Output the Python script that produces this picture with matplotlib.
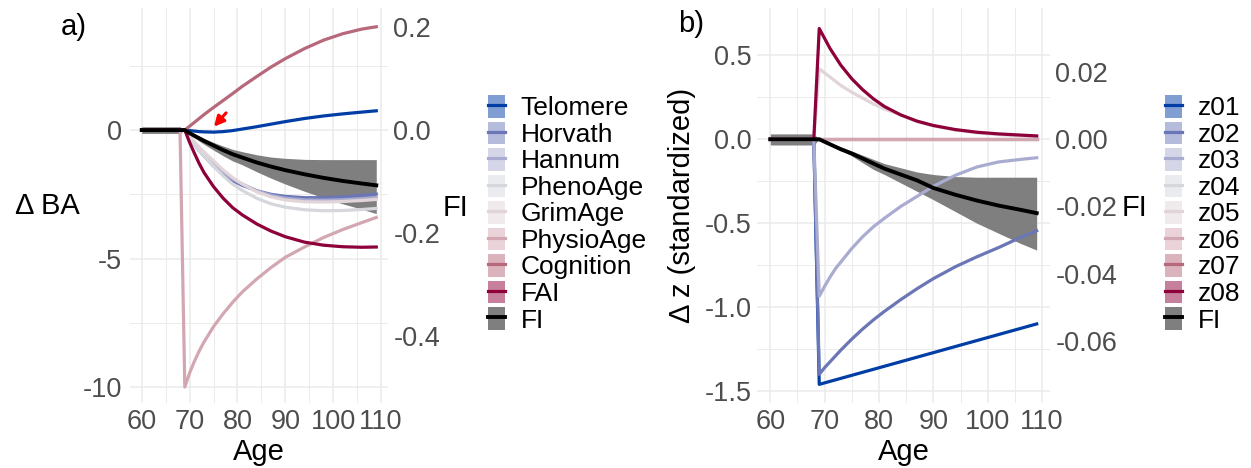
# Simulated intervention effects on biological age / frailty

import numpy as np
import matplotlib
matplotlib.use('Agg')
import matplotlib.pyplot as plt
import matplotlib.ticker as tck
from matplotlib.patches import Rectangle
from matplotlib.lines import Line2D

plt.rcParams['font.family'] = ['Liberation Sans', 'DejaVu Sans']
plt.rcParams['axes.unicode_minus'] = False

ages = [60, 68, 69, 70, 71, 72, 73, 75, 77, 79, 81, 84, 87, 90, 94, 98, 102, 106, 109]

# panel a: change in biological age
ba_labels = ['Telomere', 'Horvath', 'Hannum', 'PhenoAge', 'GrimAge',
             'PhysioAge', 'Cognition', 'FAI']
telomere = [0, 0, 0, -0.02, -0.04, -0.06, -0.07, -0.08, -0.06, -0.02, 0.04, 0.13, 0.23, 0.33, 0.45, 0.55, 0.63, 0.70, 0.75]
horvath = [0, 0, 0, -0.28, -0.55, -0.8, -1.0, -1.4, -1.72, -1.97, -2.15, -2.36, -2.5, -2.58, -2.63, -2.63, -2.6, -2.54, -2.49]
hannum = [0, 0, 0, -0.25, -0.5, -0.73, -0.95, -1.3, -1.62, -1.9, -2.1, -2.36, -2.54, -2.65, -2.72, -2.73, -2.71, -2.67, -2.62]
phenoage = [0, 0, 0, -0.28, -0.55, -0.8, -1.0, -1.4, -1.78, -2.1, -2.35, -2.65, -2.87, -3.0, -3.1, -3.14, -3.13, -3.09, -3.05]
grimage = [0, 0, 0, -0.22, -0.45, -0.66, -0.85, -1.2, -1.55, -1.85, -2.1, -2.4, -2.6, -2.72, -2.79, -2.8, -2.78, -2.74, -2.7]
physioage = [0, 0, -10, -9.45, -9.0, -8.6, -8.25, -7.65, -7.15, -6.7, -6.3, -5.8, -5.35, -4.95, -4.55, -4.18, -3.87, -3.6, -3.4]
cognition = [0, 0, 0, 0.15, 0.3, 0.45, 0.6, 0.88, 1.15, 1.42, 1.7, 2.08, 2.45, 2.78, 3.17, 3.5, 3.75, 3.93, 4.02]
fai = [0, 0, 0, -0.48, -0.9, -1.3, -1.65, -2.2, -2.65, -3.02, -3.3, -3.65, -3.93, -4.15, -4.36, -4.48, -4.54, -4.56, -4.55]
ba_series = [telomere, horvath, hannum, phenoage, grimage, physioage, cognition, fai]

fi_a = [0, 0, 0, -0.006, -0.011, -0.016, -0.021, -0.03, -0.039, -0.047, -0.0535, -0.063, -0.071, -0.078, -0.086, -0.093, -0.099, -0.104, -0.1075]
fi_a_hi = [0.0065, 0.0065, 0, -0.004, -0.0075, -0.0115, -0.016, -0.024, -0.031, -0.0375, -0.042, -0.048, -0.0525, -0.055, -0.057, -0.0575, -0.0575, -0.0575, -0.0575]
fi_a_lo = [-0.0065, -0.0065, 0, -0.008, -0.015, -0.0215, -0.0275, -0.039, -0.05, -0.06, -0.0675, -0.081, -0.0935, -0.105, -0.119, -0.132, -0.1435, -0.154, -0.1625]

# panel b: change in standardized z
z_labels = ['z01', 'z02', 'z03', 'z04', 'z05', 'z06', 'z07', 'z08']
z01 = [0, 0, -1.46, -1.451, -1.442, -1.433, -1.424, -1.406, -1.388, -1.37, -1.352, -1.325, -1.298, -1.271, -1.235, -1.199, -1.163, -1.127, -1.10]
z02 = [0, 0, -1.40, -1.36, -1.325, -1.29, -1.255, -1.19, -1.13, -1.075, -1.025, -0.955, -0.89, -0.83, -0.76, -0.70, -0.645, -0.585, -0.545]
z03 = [0, 0, -0.935, -0.875, -0.82, -0.77, -0.73, -0.65, -0.58, -0.52, -0.47, -0.4, -0.34, -0.28, -0.215, -0.165, -0.135, -0.12, -0.11]
z04 = [0] * 19
z05 = [0, 0, 0.42, 0.395, 0.37, 0.345, 0.32, 0.28, 0.245, 0.21, 0.18, 0.145, 0.105, 0.08, 0.055, 0.038, 0.028, 0.02, 0.015]
z06 = [0] * 19
z07 = [0] * 19
z08 = [0, 0, 0.66, 0.6, 0.54, 0.49, 0.44, 0.36, 0.295, 0.24, 0.195, 0.145, 0.108, 0.082, 0.058, 0.042, 0.032, 0.025, 0.02]
z_series = [z01, z02, z03, z04, z05, z06, z07, z08]

fi_b = [0, 0, 0, -0.00075, -0.0015, -0.00225, -0.003, -0.00425, -0.00575, -0.00725, -0.00875, -0.0105, -0.01225, -0.0145, -0.0165, -0.01825, -0.01975, -0.021, -0.022]
fi_b_hi = [0.0016, 0.0016, 0, -0.00055, -0.0011, -0.00165, -0.00225, -0.0035, -0.00475, -0.006, -0.00725, -0.0085, -0.00975, -0.0105, -0.0111, -0.0113, -0.0113, -0.0113, -0.0113]
fi_b_lo = [-0.0017, -0.0017, 0, -0.0009, -0.00175, -0.0025, -0.00325, -0.005, -0.007, -0.009, -0.0105, -0.013, -0.0155, -0.018, -0.0215, -0.025, -0.028, -0.031, -0.033]

fi_scale = 0.05

palette = ['#003DA5', '#6A76B6', '#A9ACD0', '#D5D7DD', '#E1D5D9',
           '#D3A7B1', '#B7687B', '#8E0039']
# z07 sits flat under z06 in panel b, so its line goes underneath
line_z = [3, 3, 3, 3, 3, 3, 2.9, 3]

tick_col = '#4D4D4D'
grid_col = '#EBEBEB'
W = 1251.0
H = 468.0


def light(c):
    r, g, b = matplotlib.colors.to_rgb(c)
    return (0.5 + r / 2, 0.5 + g / 2, 0.5 + b / 2)


def draw_panel(ax, series, fi, fi_lo, fi_hi, ylim, ymaj, ymin, sec_ticks, sec_fmt, zord):
    x = np.array(ages)
    ax.fill_between(x, np.array(fi_lo) / fi_scale, np.array(fi_hi) / fi_scale,
                    color='#7F7F7F', lw=0, zorder=2)
    for s, c, z in zip(series, palette, zord):
        ax.plot(x, s, color=c, lw=2.3, zorder=z)
    ax.plot(x, np.array(fi) / fi_scale, color='black', lw=2.8, zorder=4)

    ax.set_xlim(57.55, 111.45)
    ax.set_ylim(*ylim)
    ax.xaxis.set_major_locator(tck.FixedLocator([60, 70, 80, 90, 100, 110]))
    ax.xaxis.set_minor_locator(tck.FixedLocator([65, 75, 85, 95, 105]))
    ax.yaxis.set_major_locator(tck.FixedLocator(ymaj))
    ax.yaxis.set_minor_locator(tck.FixedLocator(ymin))
    ax.grid(which='major', color=grid_col, lw=1.1, zorder=0)
    ax.grid(which='minor', color=grid_col, lw=0.7, zorder=0)
    ax.set_axisbelow(True)
    for sp in ax.spines.values():
        sp.set_visible(False)
    ax.tick_params(which='both', length=0, labelsize=19.5, labelcolor=tick_col)
    ax.tick_params(axis='x', pad=4)

    sec = ax.secondary_yaxis('right', functions=(lambda v: v * fi_scale, lambda v: v / fi_scale))
    sec.set_yticks(sec_ticks)
    sec.yaxis.set_major_formatter(tck.FormatStrFormatter(sec_fmt))
    sec.tick_params(length=0, labelsize=19.5, labelcolor=tick_col, pad=3.8)
    for sp in sec.spines.values():
        sp.set_visible(False)
    ax.set_xlabel('Age', fontsize=21, va='center')
    ax.xaxis.set_label_coords(0.5, -0.124)
    return sec


fig = plt.figure(figsize=(12.51, 4.68), dpi=100)
ax_a = fig.add_axes([130 / W, (H - 403) / H, 258 / W, 395 / H])
ax_b = fig.add_axes([757 / W, (H - 403) / H, 293 / W, 395 / H])

draw_panel(ax_a, ba_series, fi_a, fi_a_lo, fi_a_hi, (-10.62, 4.75),
           [0, -5, -10], [2.5, -2.5, -7.5], [0.2, 0.0, -0.2, -0.4], '%.1f', [3] * 8)
draw_panel(ax_b, z_series, fi_b, fi_b_lo, fi_b_hi, (-1.571, 0.782),
           [0.5, 0, -0.5, -1.0, -1.5], [0.25, -0.25, -0.75, -1.25],
           [0.02, 0.0, -0.02, -0.04, -0.06], '%.2f', line_z)

ax_a.yaxis.set_major_formatter(tck.FormatStrFormatter('%d'))
ax_b.yaxis.set_major_formatter(tck.FormatStrFormatter('%.1f'))
ax_a.tick_params(axis='y', pad=5.5)
ax_b.tick_params(axis='y', pad=3.8)

ax_a.set_ylabel('\u0394 BA', fontsize=21, rotation=0, ha='center', va='center')
ax_a.yaxis.set_label_coords(-0.322, 0.5)
ax_b.set_ylabel('\u0394 z (standardized)', fontsize=21, va='center')
ax_b.yaxis.set_label_coords(-0.256, 0.5)

# right-hand axis titles
fig.text(443 / W, 1 - 208 / H, 'FI', fontsize=21, ha='left', va='center')
fig.text(1122 / W, 1 - 208 / H, 'FI', fontsize=21, ha='left', va='center')

# red arrow pointing to the telomere dip
ax_a.annotate('', xy=(74.7, 0.05), xytext=(78.0, 0.75),
              arrowprops=dict(arrowstyle='-|>', color='red', lw=2.2, mutation_scale=15),
              zorder=6)

fig.text(61 / W, 1 - 27 / H, 'a)', fontsize=21, va='center', ha='left')
fig.text(678 / W, 1 - 24 / H, 'b)', fontsize=21, va='center', ha='left')


def make_legend(labels, x_px):
    handles = []
    for c in palette:
        handles.append((Rectangle((0, 0), 1, 1, facecolor=light(c), edgecolor='none'),
                        Line2D([], [], color=c, lw=2.3)))
    handles.append((Rectangle((0, 0), 1, 1, facecolor='#7F7F7F', edgecolor='none'),
                    Line2D([], [], color='black', lw=2.8)))
    fig.legend(handles, labels + ['FI'], loc='upper left',
               bbox_to_anchor=(x_px / W, 1 - 95 / H), frameon=False,
               fontsize=19, handlelength=0.64, handleheight=0.95,
               handletextpad=0.6, labelspacing=0.04, borderpad=0, borderaxespad=0)


make_legend(ba_labels, 488)
make_legend(z_labels, 1165)

fig.savefig('out.png', dpi=100)
